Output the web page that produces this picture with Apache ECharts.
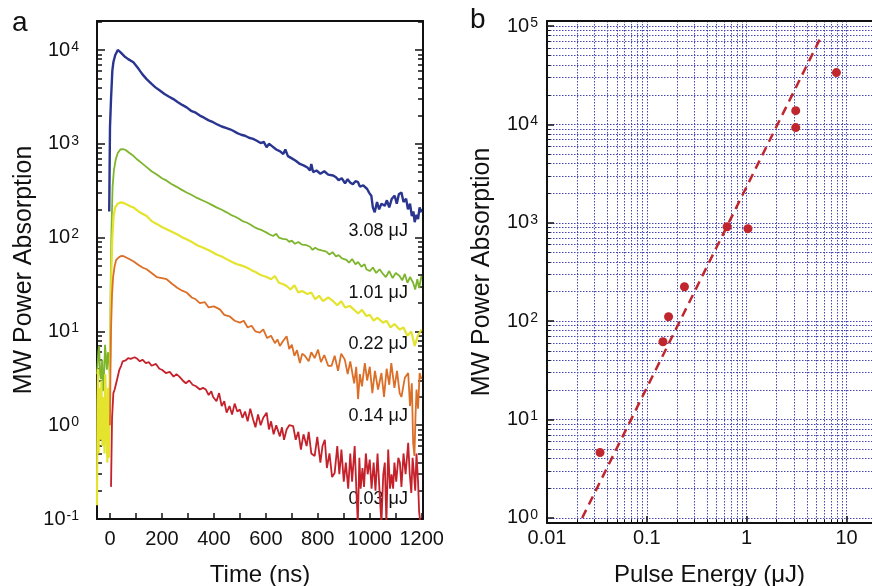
<!DOCTYPE html>
<html><head><meta charset="utf-8">
<script src="https://cdn.jsdelivr.net/npm/echarts@6/dist/echarts.min.js"></script>
<style>html,body{margin:0;padding:0;background:#fff}#c{width:872px;height:586px}</style>
</head><body><div id="c"></div>
<script>
// ---------- Panel a: MW power absorption transients [time ns, value] ----------
const trace308 = [[-3,190],[0,1500],[4,3000],[9,6000],[13,7400],[20,8800],[30,10000],[40,9500],[55,8600],[70,8000],[90,7400],[110,6300],[125,5500],[141,4900],[160,4350],[175,4000],[192,3700],[210,3400],[226,3200],[244,3000],[260,2800],[278,2600],[295,2450],[312,2250],[330,2150],[346,2000],[362,1900],[380,1780],[397,1700],[415,1600],[430,1530],[446,1480],[462,1430],[474,1380],[490,1300],[505,1250],[520,1220],[535,1160],[551,1130],[565,1080],[580,1020],[592,1050],[603,920],[612,1000],[625,940],[640,870],[655,830],[667,780],[675,870],[685,740],[700,700],[715,660],[731,610],[745,590],[760,560],[770,520],[775,610],[782,500],[795,520],[810,480],[825,510],[840,470],[859,460],[870,440],[880,410],[892,430],[905,380],[915,420],[923,390],[935,370],[945,400],[955,390],[962,350],[975,360],[990,330],[998,300],[1006,280],[1012,210],[1019,186],[1028,240],[1036,200],[1045,230],[1058,219],[1066,250],[1075,210],[1085,260],[1096,280],[1104,230],[1112,290],[1122,303],[1130,240],[1140,260],[1147,200],[1155,230],[1162,170],[1168,190],[1173,146],[1180,175],[1186,158],[1192,210],[1199,186]];
const trace101 = [[-50,3.5],[-45,6],[-42,7],[-38,3.5],[-35,3.1],[-30,5],[-27,2.3],[-22,4],[-19,7.2],[-15,5],[-12,3.9],[-8,6],[-4,5],[0,3],[2,22],[5,100],[10,350],[15,520],[22,680],[30,800],[40,870],[50,880],[60,860],[75,800],[90,745],[105,680],[120,630],[141,565],[160,510],[180,470],[200,430],[218,405],[235,375],[255,350],[275,325],[295,303],[315,285],[335,265],[355,250],[372,238],[390,225],[410,210],[430,198],[449,186],[465,175],[480,168],[495,160],[510,150],[526,145],[540,138],[555,130],[570,124],[585,120],[603,113],[615,108],[628,104],[640,110],[650,100],[665,97],[680,96],[690,90],[700,93],[712,86],[725,90],[740,84],[757,83],[770,80],[780,74],[790,78],[800,75],[815,73],[833,71],[845,66],[857,70],[870,63],[880,65],[893,60],[910,58],[920,54],[932,59],[945,52],[955,55],[968,49],[980,52],[987,46],[1000,44],[1012,48],[1025,42],[1038,46],[1051,41],[1062,38],[1075,44],[1088,37],[1100,42],[1115,39],[1125,35],[1135,41],[1145,33],[1155,38],[1167,33],[1175,28],[1183,36],[1190,29],[1195,34],[1199,39]];
const trace022 = [[-50,0.14],[-48,1.8],[-46,4],[-44,0.5],[-40,2.5],[-37,0.7],[-33,3],[-29,0.6],[-25,2],[-21,0.5],[-18,3.5],[-14,1.2],[-10,0.4],[-7,2.5],[-4,0.45],[-1,3],[2,8],[5,40],[9,100],[14,170],[20,210],[30,230],[42,238],[51,235],[65,225],[80,215],[90,210],[110,190],[125,180],[141,170],[160,150],[180,140],[200,130],[218,123],[240,115],[260,108],[280,100],[295,96],[315,90],[335,83],[355,79],[372,75],[390,71],[410,66],[430,63],[449,59],[470,55],[490,52],[510,50],[526,48],[545,45],[560,43],[580,40],[603,38],[620,36],[635,39],[650,33],[665,32],[680,30.5],[695,28],[710,31],[725,26],[740,27],[760,25],[775,26],[790,22],[805,24],[820,21],[840,23],[859,21],[875,19],[890,21],[905,18],[923,18.7],[940,17],[955,15.5],[970,17],[987,14.6],[1000,15],[1015,13],[1030,14],[1051,12.4],[1065,13],[1080,11],[1095,12],[1115,10.5],[1130,11],[1145,9],[1160,10],[1173,7.0],[1185,9],[1199,10.5]];
const trace014 = [[0,1],[2,4],[4,10.5],[8,25],[12,38],[18,50],[24,58],[35,62],[45,64],[55,63],[70,60],[90,56],[110,51],[125,48],[141,46],[160,42],[180,38],[200,37],[218,36],[240,32],[260,29],[280,27],[295,26],[315,23],[330,22],[346,20],[365,20.5],[380,18],[400,18.5],[423,17.2],[440,15],[460,14.5],[480,13],[500,12.4],[515,13],[530,11],[545,11.5],[560,10],[577,9.7],[590,10.5],[605,8.5],[620,9],[635,7.5],[645,8.2],[654,7.0],[665,7.8],[680,8.9],[690,6.5],[700,7.2],[710,5.5],[720,6.3],[731,4.6],[740,5.8],[750,5.5],[765,4.8],[775,6],[788,5.2],[801,6.4],[812,4.7],[825,5.6],[840,4.3],[853,4.3],[865,5.5],[878,3.8],[890,5.8],[904,5.0],[915,3.5],[925,4.8],[940,2.8],[948,4.2],[955,1.9],[962,3.5],[970,2.6],[981,4.6],[990,3.0],[1000,4.2],[1010,2.2],[1020,3.8],[1032,2.4],[1045,3.6],[1055,2.0],[1065,4.0],[1075,2.7],[1083,4.6],[1095,2.5],[1105,3.8],[1115,2.2],[1122,2.0],[1135,3.2],[1148,3.6],[1155,1.6],[1162,2.8],[1167,0.65],[1172,0.47],[1176,1.2],[1180,2.4],[1186,1.5],[1192,3.6],[1199,3.1]];
const trace003 = [[4,0.22],[8,1.2],[13,2.2],[18,2.4],[23,2.4],[30,3.3],[36,3.9],[43,4.3],[49,4.8],[60,4.9],[70,5.2],[80,5.1],[87,5.0],[95,5.3],[105,5.1],[115,4.8],[125,5.0],[138,4.6],[150,4.7],[160,4.3],[177,4.5],[190,4.0],[200,3.9],[215,3.6],[230,3.7],[245,3.3],[256,3.5],[267,3.3],[280,3.0],[292,2.8],[305,3.0],[318,2.7],[331,2.6],[346,2.4],[358,2.5],[369,2.4],[380,2.1],[390,2.3],[397,2.0],[410,1.8],[420,2.2],[430,1.6],[440,1.8],[449,1.36],[460,1.6],[470,1.3],[480,1.7],[490,1.4],[500,1.47],[510,1.2],[520,1.4],[530,1.1],[540,1.5],[551,1.15],[560,0.95],[570,1.3],[580,1.0],[590,1.2],[603,1.36],[612,0.9],[620,1.1],[630,0.8],[640,1.0],[654,0.76],[662,0.95],[670,0.7],[680,0.9],[690,1.0],[705,0.98],[715,0.7],[725,0.85],[735,0.55],[745,0.8],[757,0.6],[765,0.85],[775,0.5],[788,0.47],[798,0.75],[810,0.4],[818,0.6],[827,0.7],[835,0.35],[845,0.5],[855,0.28],[865,0.31],[875,0.6],[883,0.3],[891,0.55],[900,0.25],[908,0.4],[917,0.21],[925,0.5],[932,0.25],[942,0.6],[948,0.22],[954,0.09],[960,0.45],[965,0.21],[972,0.35],[978,0.22],[985,0.5],[992,0.3],[1000,0.43],[1007,0.21],[1015,0.4],[1022,0.2],[1030,0.5],[1038,0.19],[1045,0.09],[1052,0.3],[1058,0.4],[1064,0.09],[1071,0.55],[1078,0.21],[1084,0.3],[1090,0.21],[1095,0.4],[1102,0.25],[1110,0.45],[1116,0.4],[1122,0.22],[1130,0.5],[1138,0.3],[1148,0.65],[1154,0.3],[1160,0.19],[1165,0.45],[1170,0.31],[1175,0.2],[1180,0.5],[1186,0.25],[1190,0.12],[1195,0.09]];

const curveLabels = ['3.08 \u03bcJ', '1.01 \u03bcJ', '0.22 \u03bcJ', '0.14 \u03bcJ', '0.03 \u03bcJ'];
const curveLabelY = [117, 25.5, 7.3, 1.25, 0.162];
const curveLabelX = 1147;

// ---------- Panel b: peak absorption vs pulse energy ----------
const pulseEnergy = [0.034, 0.145, 0.165, 0.238, 0.637, 1.03, 3.1, 3.1, 7.92];
const peakAbsorption = [4.63, 61.8, 111, 224, 912, 872, 9280, 13800, 33600];
const fitEnergy = [0.0225, 5.69];
const fitAbsorption = [1, 81500];

// ---------- tick values ----------
const timeLabelTicks = [0, 200, 400, 600, 800, 1000, 1200];
const timeTicks = [0, 100, 200, 300, 400, 500, 600, 700, 800, 900, 1000, 1100, 1200];
const decadesA = [0.1, 1, 10, 100, 1000, 10000];
const decadesBx = [0.01, 0.1, 1, 10];
const decadesBy = [1, 10, 100, 1000, 10000, 100000];
const minorMultipliers = [2, 3, 4, 5, 6, 7, 8, 9];

function minors(decs) {
  const out = [];
  decs.forEach(d => minorMultipliers.forEach(m => out.push(+(d * m).toPrecision(6))));
  return out;
}
const minorA = minors([0.1, 1, 10, 100, 1000, 10000]);
const minorBx = minors([0.01, 0.1, 1, 10]);
const minorBy = minors([1, 10, 100, 1000, 10000]);

const FONT = 'Liberation Sans';
const INK = '#111';
const GRIDC = '#4646b4';

function powLabel(v) {
  const e = Math.round(Math.log10(v));
  return '10{s|' + e + '}';
}
const powRich = { s: { fontSize: 14, fontFamily: FONT, color: INK, verticalAlign: 'top', lineHeight: 11, padding: [0, 0, 0, 1] } };

const chart = echarts.init(document.getElementById('c'), null, { renderer: 'canvas' });

const A_MIN = 0.1, A_MAX = 20400, T_MIN = -50, T_MAX = 1205;
const B_XMIN = 0.01, B_XMAX = 18, B_YMIN = 0.889, B_YMAX = 112400;

const lineAxis = { show: true, onZero: false, lineStyle: { color: INK, width: 2 } };
const noTick = { show: false };
const noLabel = { show: false };
const noLine = { show: false, onZero: false };

const option = {
  animation: false,
  backgroundColor: '#fff',
  grid: [
    { left: 97, top: 21, width: 326, height: 498, outerBoundsMode: 'none', containLabel: false },
    { left: 547, top: 21, right: 0, height: 502, outerBoundsMode: 'none', containLabel: false }
  ],
  xAxis: [
    { // 0: panel a bottom
      type: 'value', gridIndex: 0, min: T_MIN, max: T_MAX, position: 'bottom',
      axisLine: lineAxis,
      axisTick: { show: true, inside: true, length: 6, customValues: timeTicks, lineStyle: { color: INK, width: 1.5 } },
      axisLabel: { customValues: timeLabelTicks, formatter: v => String(v), fontFamily: FONT, fontSize: 20, color: INK, margin: 10 },
      splitLine: { show: false },
      name: 'Time (ns)', nameLocation: 'middle', nameGap: 44,
      nameTextStyle: { fontFamily: FONT, fontSize: 24, color: INK }
    },
    { // 1: panel a top frame
      type: 'value', gridIndex: 0, min: T_MIN, max: T_MAX, position: 'top',
      axisLine: lineAxis, axisTick: noTick, axisLabel: noLabel, splitLine: { show: false }
    },
    { // 2: panel b bottom major
      type: 'log', gridIndex: 1, min: B_XMIN, max: B_XMAX, position: 'bottom',
      axisLine: lineAxis,
      axisTick: { show: true, inside: true, length: 7, customValues: decadesBx, lineStyle: { color: INK, width: 1.5 } },
      axisLabel: { customValues: decadesBx, fontFamily: FONT, fontSize: 20, color: INK, margin: 5,
        formatter: v => String(v) },
      splitLine: { show: true, lineStyle: { color: GRIDC, width: 1, type: [1.5, 1.5] } },
      name: 'Pulse Energy (\u03bcJ)', nameLocation: 'middle', nameGap: 40,
      nameTextStyle: { fontFamily: FONT, fontSize: 24, color: INK }
    },
    { // 3: panel b bottom minor
      type: 'log', gridIndex: 1, min: B_XMIN, max: B_XMAX, position: 'bottom',
      axisLine: noLine,
      axisTick: { show: true, inside: true, length: 3.5, customValues: minorBx, lineStyle: { color: INK, width: 1 } },
      axisLabel: noLabel,
      splitLine: { show: true, lineStyle: { color: GRIDC, width: 1, type: [1.5, 1.5] } }
    },
    { // 4: panel b top frame
      type: 'log', gridIndex: 1, min: B_XMIN, max: B_XMAX, position: 'top',
      axisLine: lineAxis, axisTick: noTick, axisLabel: noLabel, splitLine: { show: false }
    }
  ],
  yAxis: [
    { // 0: panel a left major
      type: 'log', gridIndex: 0, min: A_MIN, max: A_MAX, position: 'left',
      axisLine: lineAxis,
      axisTick: { show: true, inside: true, length: 8, customValues: decadesA, lineStyle: { color: INK, width: 1.5 } },
      axisLabel: { customValues: decadesA, formatter: powLabel, rich: powRich, fontFamily: FONT, fontSize: 20, color: INK, margin: 18, lineHeight: 20 },
      splitLine: { show: false },
      name: 'MW Power Absorption', nameLocation: 'middle', nameGap: 60,
      nameTextStyle: { fontFamily: FONT, fontSize: 25, color: INK }
    },
    { // 1: panel a left minor
      type: 'log', gridIndex: 0, min: A_MIN, max: A_MAX, position: 'left',
      axisLine: noLine,
      axisTick: { show: true, inside: true, length: 5, customValues: minorA, lineStyle: { color: INK, width: 1.5 } },
      axisLabel: noLabel, splitLine: { show: false }
    },
    { // 2: panel a right major
      type: 'log', gridIndex: 0, min: A_MIN, max: A_MAX, position: 'right',
      axisLine: lineAxis,
      axisTick: { show: true, inside: true, length: 8, customValues: decadesA, lineStyle: { color: INK, width: 1.5 } },
      axisLabel: noLabel, splitLine: { show: false }
    },
    { // 3: panel a right minor
      type: 'log', gridIndex: 0, min: A_MIN, max: A_MAX, position: 'right',
      axisLine: noLine,
      axisTick: { show: true, inside: true, length: 5, customValues: minorA, lineStyle: { color: INK, width: 1.5 } },
      axisLabel: noLabel, splitLine: { show: false }
    },
    { // 4: panel b left major
      type: 'log', gridIndex: 1, min: B_YMIN, max: B_YMAX, position: 'left',
      axisLine: lineAxis,
      axisTick: { show: true, inside: true, length: 7, customValues: decadesBy, lineStyle: { color: INK, width: 1.5 } },
      axisLabel: { customValues: decadesBy, formatter: powLabel, rich: powRich, fontFamily: FONT, fontSize: 20, color: INK, margin: 9, lineHeight: 20 },
      splitLine: { show: true, lineStyle: { color: GRIDC, width: 1, type: [1.5, 1.5] } },
      name: 'MW Power Absorption', nameLocation: 'middle', nameGap: 52,
      nameTextStyle: { fontFamily: FONT, fontSize: 25, color: INK }
    },
    { // 5: panel b left minor
      type: 'log', gridIndex: 1, min: B_YMIN, max: B_YMAX, position: 'left',
      axisLine: noLine,
      axisTick: { show: true, inside: true, length: 3.5, customValues: minorBy, lineStyle: { color: INK, width: 1 } },
      axisLabel: noLabel,
      splitLine: { show: true, lineStyle: { color: GRIDC, width: 1, type: [1.5, 1.5] } }
    }
  ],
  graphic: [
    { type: 'text', left: 12, top: 9, style: { text: 'a', font: '28px "Liberation Sans"', fill: INK } },
    { type: 'text', left: 470, top: 6, style: { text: 'b', font: '28px "Liberation Sans"', fill: INK } }
  ],
  series: [
    { type: 'line', xAxisIndex: 0, yAxisIndex: 0, data: trace101, symbol: 'none', lineStyle: { color: '#7db52c', width: 1.8 }, clip: true },
    { type: 'line', xAxisIndex: 0, yAxisIndex: 0, data: trace022, symbol: 'none', lineStyle: { color: '#e4e32e', width: 2.2 }, clip: true },
    { type: 'line', xAxisIndex: 0, yAxisIndex: 0, data: trace014, symbol: 'none', lineStyle: { color: '#dc6f28', width: 1.8 }, clip: true },
    { type: 'line', xAxisIndex: 0, yAxisIndex: 0, data: trace003, symbol: 'none', lineStyle: { color: '#c5212b', width: 1.8 }, clip: true },
    { type: 'line', xAxisIndex: 0, yAxisIndex: 0, data: trace308, symbol: 'none', lineStyle: { color: '#29358f', width: 2.4 }, clip: true },
    {
      type: 'scatter', xAxisIndex: 0, yAxisIndex: 0, symbolSize: 0, silent: true,
      itemStyle: { opacity: 1 },
      data: curveLabels.map((t, i) => [curveLabelX, curveLabelY[i], t]),
      label: { show: true, position: 'left', distance: 0, formatter: p => p.value[2], fontFamily: FONT, fontSize: 18, color: INK, opacity: 1 }
    },
    {
      type: 'line', xAxisIndex: 2, yAxisIndex: 4, symbol: 'none',
      data: fitEnergy.map((x, i) => [x, fitAbsorption[i]]),
      lineStyle: { color: '#c0262e', width: 2.5, type: [9, 6] }
    },
    {
      type: 'scatter', xAxisIndex: 2, yAxisIndex: 4, symbolSize: 9,
      data: pulseEnergy.map((x, i) => [x, peakAbsorption[i]]),
      itemStyle: { color: '#c0262e', opacity: 1 }
    }
  ]
};
chart.setOption(option);
</script>
</body></html>
